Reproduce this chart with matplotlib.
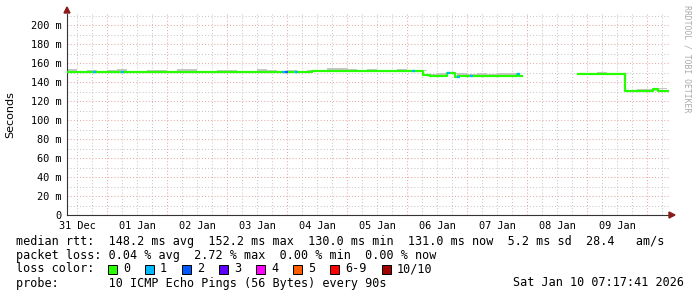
import numpy as np
import matplotlib
matplotlib.use("Agg")
import matplotlib.pyplot as plt
from matplotlib.patches import Rectangle, Polygon

W, H = 697, 297

# median rtt (ms), step changes; hours counted from 31 Dec 00:00
med_t = [8, 106, 150.4, 153.2, 160, 163.2, 164.4, 188, 189, 190, 212.4, 231.2, 242.4, 244.4, 248.8]
med_v = [150.3, 151.3, 147.6, 146.3, 149.6, 145.0, 146.5, 148.8, 146.5, np.nan,
         148.4, 130.2, 133.0, 130.8, 130.8]

# smoke (upper edge of ping spread), 4 hour bins starting at 08:00 31 Dec
smoke_t0 = 8
smoke_hi = [153.5, 152.0, 153.0, 151.5, 152.5, 154.0, 152.0, 151.5, 153.0, 152.5,
            151.5, 153.5, 154.0, 152.0, 151.5, 152.5, 153.0, 151.5, 152.0, 153.5,
            152.5, 151.5, 153.0, 152.0, 152.5,
            153.0, 154.5, 155.0, 153.5, 152.5, 154.0, 153.0, 152.5, 154.0, 153.0, 152.5,
            148.5, 149.0, 148.0, 149.5, 148.5, 149.0, 148.5, 149.5, 150.0, 149.0,
            np.nan, np.nan, np.nan, np.nan, np.nan,
            150.0, 149.5, 150.5, 150.0, 149.5,
            132.0, 133.0, 132.5, 133.5]

# samples with packet loss (hour, lost pings out of 10)
loss_t = [18.4, 29.6, 94.0, 95.2, 99.2, 146.0, 160.0, 164.0, 169.2, 188.0]
loss_n = [1, 1, 1, 2, 1, 1, 1, 1, 1, 1]

loss_labels = ['0', '1', '2', '3', '4', '5', '6-9', '10/10']
loss_colors = ['#26ff00', '#00b8ff', '#0059ff', '#5e00ff', '#ff00ff', '#ff5e00', '#ff0000', '#a10000']

day_labels = ['31 Dec', '01 Jan', '02 Jan', '03 Jan', '04 Jan', '05 Jan',
              '06 Jan', '07 Jan', '08 Jan', '09 Jan']

legend_lines = [
    'median rtt:  148.2 ms avg  152.2 ms max  130.0 ms min  131.0 ms now  5.2 ms sd  28.4   am/s',
    'packet loss: 0.04 % avg  2.72 % max  0.00 % min  0.00 % now',
    'loss color:',
    'probe:       10 ICMP Echo Pings (56 Bytes) every 90s',
]
stamp = 'Sat Jan 10 07:17:41 2026'

mono = 'DejaVu Sans Mono'

fig = plt.figure(figsize=(W / 100, H / 100), dpi=100)
fig.patch.set_facecolor('white')
ax = fig.add_axes([67 / W, (H - 215) / H, (669 - 67) / W, (215 - 14) / H])
ax.set_xlim(8, 248.8)
ax.set_ylim(0, 211.6)

# grid
for h in np.arange(12, 249, 6):
    if h % 24 != 0:
        ax.axvline(h, color='#c8c8c8', lw=0.75, ls=(0, (1, 2)), zorder=1)
for v in range(10, 211, 20):
    ax.axhline(v, color='#c8c8c8', lw=0.75, ls=(0, (1, 2)), zorder=1)
for h in range(24, 249, 24):
    ax.axvline(h, color='#e8a8a8', lw=0.75, ls=(0, (1, 2)), zorder=1)
for v in range(20, 211, 20):
    ax.axhline(v, color='#e8a8a8', lw=0.75, ls=(0, (1, 2)), zorder=1)

# smoke
med_t_arr = np.array(med_t)
med_v_arr = np.array(med_v)
sx = smoke_t0 + 4 * np.arange(len(smoke_hi) + 1)
shi = np.append(smoke_hi, smoke_hi[-1])
idx = np.clip(np.searchsorted(med_t_arr, sx, side='right') - 1, 0, len(med_t) - 1)
slo = med_v_arr[idx]
ax.fill_between(sx, slo, shi, step='post', color='#c6c6c6', lw=0, zorder=2)

# median line
ax.step(med_t, med_v, where='post', color=loss_colors[0], lw=1.6, zorder=3)

# loss samples
for t, n in zip(loss_t, loss_n):
    i = np.searchsorted(med_t_arr, t, side='right') - 1
    ax.plot([t, t + 1.2], [med_v[i], med_v[i]], color=loss_colors[n], lw=1.6,
            solid_capstyle='butt', zorder=4)

# axes
for s in ['top', 'right']:
    ax.spines[s].set_visible(False)
ax.spines['left'].set_color('#333333')
ax.spines['bottom'].set_color('#333333')
ax.spines['left'].set_linewidth(0.8)
ax.spines['bottom'].set_linewidth(0.8)

yt = list(range(0, 201, 20))
ax.set_yticks(yt)
ax.set_yticklabels(['0' if v == 0 else f'{v} m' for v in yt], family=mono, fontsize=7.4)
ax.set_xticks([12 + 24 * i for i in range(len(day_labels))])
ax.set_xticklabels(day_labels, family=mono, fontsize=7.4)
ax.tick_params(length=0, pad=4)
ax.set_ylabel('Seconds', fontsize=8, labelpad=11)

# axis arrows
fig.add_artist(Polygon([[64 / W, 1 - 13 / H], [70 / W, 1 - 13 / H], [67 / W, 1 - 7 / H]],
                       closed=True, color='#8b1a1a', transform=fig.transFigure))
fig.add_artist(Polygon([[669 / W, 1 - 212 / H], [669 / W, 1 - 218 / H], [675 / W, 1 - 215 / H]],
                       closed=True, color='#8b1a1a', transform=fig.transFigure))

fig.text(687 / W, 1 - 5 / H, 'RRDTOOL / TOBI OETIKER', rotation=270, family=mono,
         fontsize=5.9, color='#aaaaaa', ha='center', va='top')

# legend text
ys = [241, 256, 269, 283]
for line, y in zip(legend_lines, ys):
    fig.text(16 / W, 1 - y / H, line, family=mono, fontsize=8.45, va='center', ha='left')
fig.text(513 / W, 1 - 283 / H, stamp, family=mono, fontsize=8.45, va='center', ha='left')

sq_x = [108, 145, 182, 219, 256, 293, 330, 382]
for x, lab, c in zip(sq_x, loss_labels, loss_colors):
    fig.add_artist(Rectangle((x / W, 1 - 274 / H), 9 / W, 9 / H, facecolor=c,
                             edgecolor='black', lw=0.7, transform=fig.transFigure))
    fig.text((x + 15) / W, 1 - 269 / H, lab, family=mono, fontsize=8.45, va='center', ha='left')

fig.savefig('out.png', dpi=100)
